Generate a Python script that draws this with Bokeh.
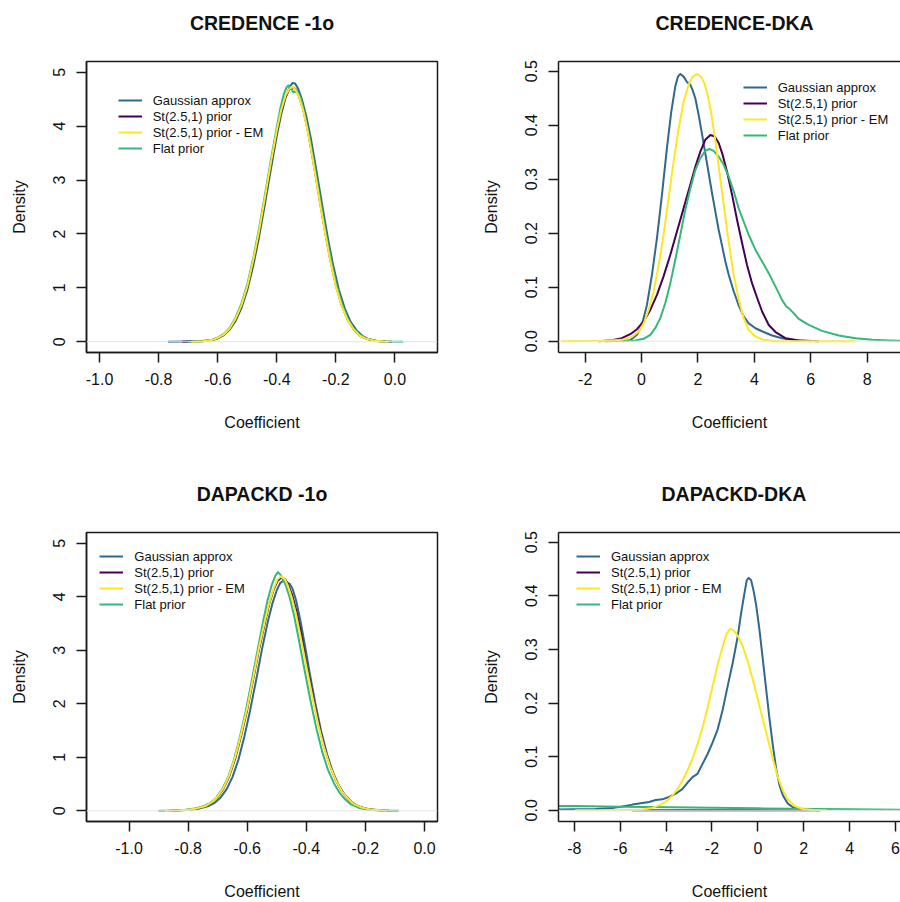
from bokeh.plotting import figure
from bokeh.models import Range1d, FixedTicker, PrintfTickFormatter, Span, Legend, LegendItem, LinearAxis
from bokeh.layouts import column, row
from bokeh.embed import file_html
from bokeh.resources import INLINE

FONT = "Liberation Sans"
SERIES = ["Gaussian approx", "St(2.5,1) prior", "St(2.5,1) prior - EM", "Flat prior"]
COLORS = ["#31688E", "#440154", "#FDE725", "#35B779"]
TITLES = ["CREDENCE -1o", "CREDENCE-DKA", "DAPACKD -1o", "DAPACKD-DKA"]

# ---- tick values ----
ticks_x_cr1o = [-1.0, -0.8, -0.6, -0.4, -0.2, 0.0]
ticks_x_crdka = [-2, 0, 2, 4, 6, 8, 10]
ticks_x_da1o = [-1.0, -0.8, -0.6, -0.4, -0.2, 0.0]
ticks_x_dadka = [-8, -6, -4, -2, 0, 2, 4, 6, 8]
ticks_y_1o = [0, 1, 2, 3, 4, 5]
ticks_y_dka = [0.0, 0.1, 0.2, 0.3, 0.4, 0.5]

# ---- CREDENCE -1o ----
cr1o_gauss_x = [-0.768, -0.70, -0.65, -0.62, -0.60, -0.58, -0.56, -0.54, -0.52, -0.50, -0.48, -0.46, -0.44,
                -0.42, -0.40, -0.385, -0.37, -0.357, -0.347, -0.338, -0.328, -0.315, -0.30, -0.285, -0.27,
                -0.255, -0.24, -0.225, -0.21, -0.19, -0.17, -0.15, -0.13, -0.11, -0.09, -0.06, -0.03]
cr1o_gauss_y = [0, 0.002, 0.008, 0.025, 0.06, 0.12, 0.22, 0.38, 0.62, 0.95, 1.40, 1.94, 2.56,
                3.20, 3.82, 4.22, 4.53, 4.72, 4.80, 4.79, 4.70, 4.50, 4.18, 3.78, 3.31,
                2.82, 2.33, 1.86, 1.44, 0.97, 0.62, 0.37, 0.21, 0.11, 0.05, 0.015, 0]
cr1o_st_x = [-0.72, -0.66, -0.62, -0.60, -0.58, -0.56, -0.54, -0.52, -0.50, -0.48, -0.46, -0.44, -0.42,
             -0.40, -0.385, -0.37, -0.358, -0.347, -0.337, -0.325, -0.31, -0.295, -0.28, -0.265, -0.25,
             -0.235, -0.22, -0.20, -0.18, -0.16, -0.14, -0.12, -0.10, -0.07, -0.04, -0.01]
cr1o_st_y = [0, 0.008, 0.03, 0.07, 0.13, 0.24, 0.41, 0.66, 1.01, 1.48, 2.03, 2.66, 3.30,
             3.90, 4.28, 4.55, 4.68, 4.72, 4.69, 4.56, 4.30, 3.92, 3.46, 2.97, 2.47,
             2.00, 1.55, 1.05, 0.67, 0.41, 0.23, 0.12, 0.06, 0.02, 0.006, 0]
cr1o_em_x = [-0.689, -0.65, -0.62, -0.60, -0.58, -0.56, -0.54, -0.52, -0.50, -0.48, -0.46, -0.44, -0.42,
             -0.40, -0.385, -0.37, -0.358, -0.348, -0.338, -0.325, -0.31, -0.295, -0.28, -0.265, -0.25,
             -0.235, -0.22, -0.20, -0.18, -0.16, -0.14, -0.12, -0.10, -0.07, -0.04, -0.022]
cr1o_em_y = [0, 0.01, 0.03, 0.07, 0.13, 0.24, 0.42, 0.67, 1.02, 1.50, 2.05, 2.68, 3.32,
             3.92, 4.30, 4.57, 4.69, 4.73, 4.69, 4.55, 4.28, 3.90, 3.44, 2.95, 2.45,
             1.98, 1.53, 1.03, 0.66, 0.40, 0.23, 0.12, 0.06, 0.02, 0.006, 0]
cr1o_flat_x = [-0.70, -0.65, -0.62, -0.60, -0.58, -0.56, -0.54, -0.52, -0.50, -0.48, -0.46, -0.44, -0.42,
               -0.40, -0.388, -0.376, -0.367, -0.36, -0.352, -0.344, -0.336, -0.328, -0.318, -0.305, -0.29,
               -0.275, -0.26, -0.245, -0.23, -0.215, -0.20, -0.18, -0.16, -0.14, -0.12, -0.10, -0.07, -0.03,
               0.028]
cr1o_flat_y = [0, 0.01, 0.033, 0.075, 0.14, 0.255, 0.44, 0.70, 1.06, 1.54, 2.10, 2.73, 3.37,
               3.98, 4.33, 4.60, 4.72, 4.76, 4.72, 4.63, 4.64, 4.62, 4.50, 4.20, 3.80,
               3.34, 2.85, 2.36, 1.90, 1.47, 1.10, 0.70, 0.43, 0.24, 0.13, 0.06, 0.02, 0.004,
               0]

# ---- CREDENCE-DKA ----
crdka_gauss_x = [-1.29, -0.40, -0.165, 0.013, 0.19, 0.368, 0.546, 0.723, 0.90, 1.054, 1.196, 1.29, 1.374,
                 1.49, 1.61, 1.73, 1.81, 1.906, 2.025, 2.14, 2.26, 2.38, 2.50, 2.617, 2.735, 2.85, 2.97,
                 3.09, 3.27, 3.44, 3.62, 3.80, 4.04, 4.33, 4.63, 4.98, 5.46, 6.05]
crdka_gauss_y = [0, 0.0019, 0.0118, 0.030, 0.067, 0.123, 0.191, 0.271, 0.358, 0.425, 0.472, 0.490, 0.495,
                 0.490, 0.480, 0.475, 0.465, 0.450, 0.419, 0.385, 0.348, 0.311, 0.274, 0.240, 0.206, 0.178, 0.148,
                 0.123, 0.092, 0.067, 0.046, 0.033, 0.024, 0.017, 0.0106, 0.0056, 0.0019, 0]
crdka_st_x = [-1.524, -1.05, -0.70, -0.40, -0.165, 0.072, 0.309, 0.546, 0.78, 1.02, 1.255, 1.49, 1.73,
              1.906, 2.084, 2.26, 2.44, 2.594, 2.735, 2.877, 3.03, 3.21, 3.386, 3.564, 3.74, 3.92, 4.10,
              4.275, 4.51, 4.75, 5.10, 5.58, 6.29]
crdka_st_y = [0, 0.0019, 0.0056, 0.013, 0.0223, 0.0365, 0.058, 0.0859, 0.120, 0.160, 0.203, 0.246, 0.290,
              0.323, 0.351, 0.373, 0.382, 0.379, 0.367, 0.345, 0.314, 0.271, 0.225, 0.182, 0.141, 0.107, 0.080,
              0.055, 0.030, 0.017, 0.0056, 0.0013, 0]
crdka_em_x = [-2.83, -1.29, -0.69, -0.34, -0.105, 0.073, 0.25, 0.427, 0.605, 0.78, 0.96, 1.137, 1.315,
              1.49, 1.67, 1.81, 1.966, 2.11, 2.225, 2.344, 2.46, 2.58, 2.70, 2.82, 2.94, 3.055, 3.175,
              3.29, 3.445, 3.62, 3.80, 4.04, 4.33, 4.75, 7.59]
crdka_em_y = [0, 0.0007, 0.0025, 0.008, 0.018, 0.033, 0.058, 0.092, 0.141, 0.197, 0.265, 0.333, 0.394,
              0.444, 0.475, 0.490, 0.4945, 0.490, 0.478, 0.456, 0.425, 0.385, 0.338, 0.290, 0.243, 0.197, 0.154,
              0.117, 0.077, 0.043, 0.021, 0.0087, 0.0025, 0, 0]
crdka_flat_x = [-0.70, -0.22, 0.072, 0.309, 0.486, 0.664, 0.84, 1.02, 1.196, 1.374, 1.55, 1.73, 1.906,
                2.084, 2.26, 2.404, 2.557, 2.735, 2.913, 3.09, 3.27, 3.445, 3.62, 3.80, 4.04, 4.275, 4.51,
                4.75, 4.98, 5.13, 5.22, 5.36, 5.575, 5.93, 6.40, 6.996, 7.59, 8.18, 8.77, 9.25, 10.5]
crdka_flat_y = [0, 0.0013, 0.0044, 0.0118, 0.0241, 0.0427, 0.0704, 0.1075, 0.151, 0.197, 0.243, 0.283, 0.317,
                0.339, 0.3525, 0.356, 0.3525, 0.342, 0.3266, 0.305, 0.277, 0.246, 0.2217, 0.197, 0.169, 0.1476, 0.126,
                0.101, 0.0766, 0.0643, 0.0612, 0.0538, 0.0414, 0.0303, 0.0192, 0.0106, 0.0056, 0.0025, 0.0013, 0.0007, 0]

# ---- DAPACKD -1o ----
da1o_gauss_x = [-0.87, -0.82, -0.79, -0.76, -0.73, -0.71, -0.69, -0.67, -0.65, -0.63, -0.61, -0.59, -0.57,
                -0.55, -0.53, -0.515, -0.50, -0.488, -0.477, -0.466, -0.456, -0.446, -0.435, -0.42, -0.405,
                -0.39, -0.37, -0.35, -0.33, -0.31, -0.29, -0.27, -0.25, -0.23, -0.20, -0.17, -0.12]
da1o_gauss_y = [0, 0.01, 0.02, 0.045, 0.09, 0.15, 0.25, 0.40, 0.63, 0.95, 1.38, 1.88, 2.44,
                3.02, 3.54, 3.87, 4.12, 4.26, 4.30, 4.27, 4.24, 4.14, 3.94, 3.55, 3.10,
                2.62, 2.02, 1.49, 1.06, 0.72, 0.47, 0.30, 0.18, 0.10, 0.04, 0.015, 0]
da1o_st_x = [-0.86, -0.83, -0.80, -0.77, -0.74, -0.72, -0.70, -0.68, -0.66, -0.64, -0.62, -0.60, -0.58,
             -0.56, -0.54, -0.525, -0.51, -0.497, -0.484, -0.472, -0.46, -0.448, -0.433, -0.418, -0.40,
             -0.38, -0.36, -0.34, -0.32, -0.30, -0.28, -0.26, -0.24, -0.21, -0.18, -0.13]
da1o_st_y = [0, 0.01, 0.02, 0.045, 0.09, 0.16, 0.26, 0.42, 0.66, 0.99, 1.42, 1.89, 2.45,
             3.02, 3.52, 3.88, 4.14, 4.30, 4.36, 4.33, 4.21, 4.03, 3.72, 3.33, 2.76,
             2.20, 1.66, 1.20, 0.85, 0.57, 0.37, 0.23, 0.13, 0.055, 0.022, 0]
da1o_em_x = [-0.878, -0.83, -0.80, -0.77, -0.74, -0.72, -0.70, -0.68, -0.66, -0.64, -0.62, -0.60, -0.58,
             -0.56, -0.54, -0.525, -0.51, -0.498, -0.486, -0.474, -0.462, -0.45, -0.435, -0.42, -0.40,
             -0.38, -0.36, -0.34, -0.32, -0.30, -0.28, -0.26, -0.24, -0.21, -0.18, -0.127]
da1o_em_y = [0, 0.01, 0.02, 0.045, 0.09, 0.16, 0.27, 0.43, 0.68, 1.02, 1.45, 1.92, 2.48,
             3.05, 3.55, 3.90, 4.16, 4.32, 4.38, 4.34, 4.20, 4.00, 3.68, 3.27, 2.70,
             2.15, 1.62, 1.18, 0.84, 0.57, 0.37, 0.23, 0.13, 0.055, 0.022, 0]
da1o_flat_x = [-0.90, -0.85, -0.81, -0.776, -0.745, -0.724, -0.704, -0.684, -0.664, -0.644, -0.624, -0.604, -0.584,
               -0.564, -0.545, -0.531, -0.517, -0.505, -0.496, -0.486, -0.47, -0.457, -0.441, -0.426, -0.406,
               -0.386, -0.366, -0.346, -0.327, -0.307, -0.288, -0.268, -0.249, -0.22, -0.19, -0.13, -0.087]
da1o_flat_y = [0, 0.005, 0.02, 0.045, 0.09, 0.15, 0.25, 0.41, 0.64, 0.97, 1.40, 1.89, 2.45,
               3.03, 3.57, 3.94, 4.22, 4.39, 4.46, 4.40, 4.22, 4.00, 3.64, 3.22, 2.63,
               2.06, 1.54, 1.10, 0.77, 0.52, 0.34, 0.21, 0.12, 0.05, 0.02, 0.003, 0]

# ---- DAPACKD-DKA ----
dadka_gauss_x = [-9.3, -8.83, -7.96, -7.08, -6.35, -5.91, -5.47, -5.11, -4.74, -4.45, -4.16, -3.87, -3.58,
                 -3.28, -3.07, -2.85, -2.63, -2.41, -2.19, -1.97, -1.75, -1.53, -1.315, -1.096, -0.877,
                 -0.73, -0.585, -0.483, -0.395, -0.293, -0.19, -0.074, 0.072, 0.218, 0.364, 0.51, 0.656,
                 0.80, 0.947, 1.093, 1.31, 1.53, 1.97, 2.70]
dadka_gauss_y = [0.001, 0.0013, 0.0019, 0.0025, 0.0044, 0.0069, 0.0106, 0.0130, 0.0155, 0.0192, 0.0204, 0.0248, 0.0309,
                 0.040, 0.0513, 0.0618, 0.068, 0.0865, 0.105, 0.1266, 0.151, 0.188, 0.2315, 0.2747, 0.324,
                 0.367, 0.4044, 0.429, 0.4333, 0.429, 0.4105, 0.383, 0.3365, 0.281, 0.2254, 0.170, 0.1204,
                 0.0772, 0.0464, 0.0278, 0.0124, 0.0056, 0.0019, 0]
dadka_st_x = [-5.5, -3.0, 0.0, 2.7]
dadka_st_y = [0.0003, 0.0003, 0.0002, 0.0001]
dadka_em_x = [-7.96, -5.91, -5.03, -4.60, -4.23, -3.94, -3.72, -3.50, -3.28, -3.07, -2.85, -2.63, -2.41,
              -2.19, -1.97, -1.75, -1.53, -1.36, -1.21, -1.067, -0.877, -0.658, -0.44, -0.22, 0.0, 0.218,
              0.437, 0.656, 0.875, 1.093, 1.31, 1.605, 1.97, 2.41, 2.99]
dadka_em_y = [0, 0, 0.0013, 0.0044, 0.0106, 0.0186, 0.0278, 0.0402, 0.0556, 0.0741, 0.0957, 0.1235, 0.1544,
              0.1914, 0.2315, 0.2717, 0.3056, 0.329, 0.3383, 0.3364, 0.3254, 0.3056, 0.2778, 0.2439, 0.2068, 0.1698,
              0.1328, 0.0957, 0.0618, 0.0371, 0.0204, 0.0081, 0.0025, 0.0007, 0]
dadka_flat_x = [-9.5, -8.0, -6.0, -3.7, -2.0, 0.0, 1.4, 4.0, 6.2, 7.0]
dadka_flat_y = [0.0085, 0.0078, 0.0068, 0.0056, 0.0046, 0.0036, 0.0031, 0.002, 0.0012, 0.001]

PANELS = [
    dict(title=TITLES[0], xr=(-1.044, 0.144), yr=(-0.2, 5.2), xt=ticks_x_cr1o, xf="%.1f", yt=ticks_y_1o, yf="%d",
         data=[(cr1o_gauss_x, cr1o_gauss_y), (cr1o_st_x, cr1o_st_y), (cr1o_em_x, cr1o_em_y), (cr1o_flat_x, cr1o_flat_y)],
         side="left", rowpos="top", leg=(31.7, 196), title_off=None),
    dict(title=TITLES[1], xr=(-2.946, 9.183), yr=(-0.0209, 0.518), xt=ticks_x_crdka, xf="%d", yt=ticks_y_dka, yf="%.1f",
         data=[(crdka_gauss_x, crdka_gauss_y), (crdka_st_x, crdka_st_y), (crdka_em_x, crdka_em_y), (crdka_flat_x, crdka_flat_y)],
         side="right", rowpos="top", leg=(184.7, 208.7), title_off=97),
    dict(title=TITLES[2], xr=(-1.144, 0.044), yr=(-0.2, 5.2), xt=ticks_x_da1o, xf="%.1f", yt=ticks_y_1o, yf="%d",
         data=[(da1o_gauss_x, da1o_gauss_y), (da1o_st_x, da1o_st_y), (da1o_em_x, da1o_em_y), (da1o_flat_x, da1o_flat_y)],
         side="left", rowpos="bottom", leg=(13.3, 208.7), title_off=None),
    dict(title=TITLES[3], xr=(-8.69, 6.22), yr=(-0.0209, 0.518), xt=ticks_x_dadka, xf="%d", yt=ticks_y_dka, yf="%.1f",
         data=[(dadka_gauss_x, dadka_gauss_y), (dadka_st_x, dadka_st_y), (dadka_em_x, dadka_em_y), (dadka_flat_x, dadka_flat_y)],
         side="right", rowpos="bottom", leg=(18.0, 208.7), title_off=103),
]

AX = "#1a1a1a"
DRAW_ORDER = [0, 1, 3, 2]


def style_axis(ax):
    ax.axis_line_color = AX
    ax.axis_line_width = 1.5
    ax.major_tick_line_color = AX
    ax.major_tick_line_width = 1.5
    ax.major_tick_out = 10
    ax.major_tick_in = 0
    ax.minor_tick_line_color = None
    ax.major_label_text_font = FONT
    ax.major_label_text_font_size = "16px"
    ax.major_label_text_color = "#111111"
    ax.axis_label_text_font = FONT
    ax.axis_label_text_font_size = "16px"
    ax.axis_label_text_font_style = "normal"
    ax.axis_label_text_color = "#111111"


def make_panel(cfg):
    if cfg["side"] == "left":
        width, mbl, mbr = 450, 86, 13
    else:
        width, mbl, mbr = 450, 108, 0
    if cfg["rowpos"] == "top":
        height, mbt, mbb = 452, 61, 100
    else:
        height, mbt, mbb = 450, 80, 78
    p = figure(width=width, height=height, x_range=Range1d(*cfg["xr"]), y_range=Range1d(*cfg["yr"]),
               output_backend="svg", toolbar_location=None,
               min_border_left=mbl, min_border_right=mbr, min_border_top=mbt, min_border_bottom=mbb,
               x_axis_label="Coefficient", y_axis_label="Density")
    p.xgrid.visible = False
    p.ygrid.visible = False
    p.background_fill_color = "white"
    p.border_fill_color = "white"
    if cfg["side"] == "left":
        p.outline_line_color = AX
        p.outline_line_width = 1.5
    else:
        p.outline_line_color = None

    xa = p.below[0]
    ya = p.left[0]
    style_axis(xa)
    style_axis(ya)
    xa.ticker = FixedTicker(ticks=cfg["xt"])
    xa.formatter = PrintfTickFormatter(format=cfg["xf"])
    xa.major_label_standoff = 10
    xa.axis_label_standoff = 26
    ya.ticker = FixedTicker(ticks=cfg["yt"])
    ya.formatter = PrintfTickFormatter(format=cfg["yf"])
    ya.major_label_orientation = "vertical"
    ya.major_label_standoff = 11
    ya.axis_label_standoff = 23

    # top edge of the box; its invisible tick also lifts the title away from the frame
    mid = 0.5 * (cfg["xr"][0] + cfg["xr"][1])
    top_ax = LinearAxis(ticker=FixedTicker(ticks=[mid]), major_tick_out=23, major_tick_in=0,
                        major_tick_line_color=AX, major_tick_line_alpha=0.0,
                        major_label_standoff=0, major_label_overrides={mid: ""},
                        major_label_text_font_size="1px", major_label_text_alpha=0.0,
                        minor_tick_line_color=None,
                        axis_line_color=(AX if cfg["side"] == "right" else None), axis_line_width=1.5)
    p.add_layout(top_ax, "above")

    p.title.text = cfg["title"]
    p.title.text_font = FONT
    p.title.text_font_size = "19.5px"
    p.title.text_font_style = "bold"
    p.title.text_color = "#111111"
    p.title.standoff = 10
    if cfg["title_off"] is None:
        p.title.align = "center"
    else:
        p.title.align = "left"
        p.title.offset = cfg["title_off"]

    p.add_layout(Span(location=0, dimension="width", line_color="#e4e4e4", line_width=1))

    renderers = [None] * 4
    for i in DRAW_ORDER:
        xs, ys = cfg["data"][i]
        renderers[i] = p.line(xs, ys, line_color=COLORS[i], line_width=2, line_join="round")

    legend = Legend(items=[LegendItem(label=SERIES[i], renderers=[renderers[i]]) for i in range(4)],
                    location=cfg["leg"], orientation="vertical",
                    border_line_color=None, background_fill_alpha=0,
                    glyph_width=24, glyph_height=16, label_height=16, label_standoff=11,
                    spacing=0, padding=0, margin=0,
                    label_text_font=FONT, label_text_font_size="13px", label_text_color="#111111")
    p.add_layout(legend)
    return p


figs = [make_panel(c) for c in PANELS]
layout = column(row(figs[0], figs[1]), row(figs[2], figs[3]))

open("out.html", "w").write(file_html(layout, INLINE))
